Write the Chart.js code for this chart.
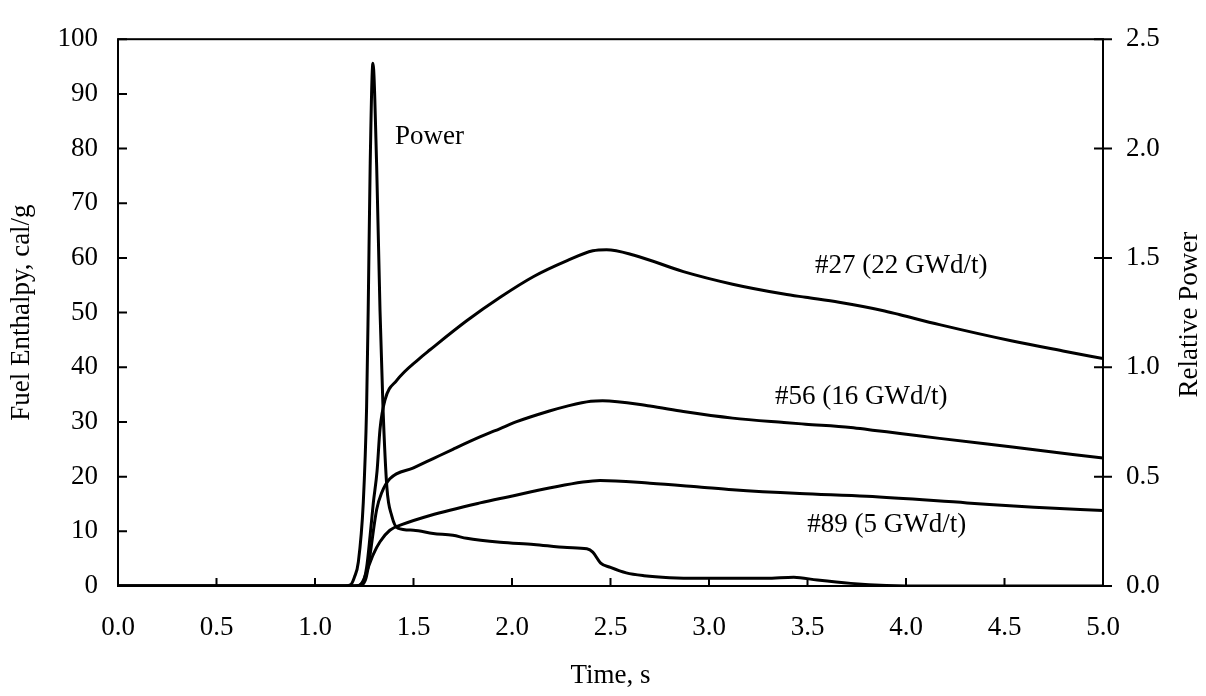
<!DOCTYPE html>
<html><head><meta charset="utf-8">
<script src="https://cdn.jsdelivr.net/npm/chart.js@4.4.0/dist/chart.umd.min.js"></script>
<style>html,body{margin:0;padding:0;background:#fff;}</style>
</head><body>
<canvas id="c" width="1206" height="696"></canvas>
<script>
// ---- data ----
const powerTime = [0, 1.15, 1.18, 1.20, 1.22, 1.245, 1.262, 1.270, 1.280, 1.294, 1.313, 1.330, 1.345, 1.365, 1.39, 1.42, 1.50, 1.60, 1.70, 1.77, 1.94, 2.11, 2.28, 2.38, 2.41, 2.45, 2.50, 2.58, 2.67, 2.80, 2.95, 3.29, 3.43, 3.55, 3.72, 3.90, 4.00, 5.00];
const powerValues = [0, 0, 0.005, 0.04, 0.11, 0.38, 0.82, 1.26, 1.92, 2.39, 1.92, 1.26, 0.82, 0.45, 0.32, 0.265, 0.255, 0.24, 0.232, 0.218, 0.20, 0.19, 0.176, 0.17, 0.155, 0.105, 0.085, 0.06, 0.047, 0.038, 0.035, 0.035, 0.04, 0.027, 0.012, 0.002, 0, 0];

const time27 = [0, 1.20, 1.24, 1.262, 1.28, 1.296, 1.315, 1.33, 1.355, 1.415, 1.53, 1.584, 1.77, 1.94, 2.11, 2.28, 2.41, 2.48, 2.62, 2.87, 3.12, 3.38, 3.49, 3.66, 3.88, 3.97, 4.17, 4.54, 4.81, 5.00];
const enthalpy27 = [0, 0, 0.5, 3.4, 9.3, 15.2, 21, 28.7, 34, 37.6, 41.6, 43.2, 48.5, 52.8, 56.6, 59.5, 61.3, 61.5, 60.5, 57.5, 55.2, 53.4, 52.8, 51.9, 50.4, 49.6, 47.8, 44.8, 42.9, 41.6];

const time56 = [0, 1.22, 1.255, 1.27, 1.28, 1.313, 1.338, 1.38, 1.50, 1.60, 1.70, 1.84, 1.94, 2.02, 2.19, 2.28, 2.40, 2.46, 2.70, 2.87, 3.12, 3.38, 3.49, 3.72, 3.83, 3.97, 4.17, 4.54, 5.00];
const enthalpy56 = [0, 0, 1, 3.4, 5.8, 14, 17, 19.6, 21.6, 23.3, 25.0, 27.3, 28.8, 30.0, 32.0, 32.9, 33.8, 33.9, 32.9, 31.9, 30.7, 29.9, 29.6, 29.0, 28.5, 27.9, 27.0, 25.4, 23.4];

const time89 = [0, 1.22, 1.245, 1.27, 1.296, 1.33, 1.38, 1.447, 1.584, 1.838, 1.94, 2.36, 2.447, 2.70, 2.95, 3.12, 3.46, 3.80, 4.31, 4.65, 5.00];
const enthalpy89 = [0, 0, 1, 3.4, 5.8, 8.1, 10.2, 11.3, 12.9, 15.2, 16, 19, 19.3, 18.8, 18.1, 17.6, 16.9, 16.4, 15.2, 14.4, 13.8];

const xTickValues = [0, 0.5, 1.0, 1.5, 2.0, 2.5, 3.0, 3.5, 4.0, 4.5, 5.0];
const labelTexts = ['Power', '#27 (22 GWd/t)', '#56 (16 GWd/t)', '#89 (5 GWd/t)'];
const labelTime = [1.406, 3.538, 3.335, 3.499];
const labelEnthalpy = [80.8, 57.2, 33.2, 9.9];

const toPts = (xs, ys) => xs.map((x, i) => ({x: x, y: ys[i]}));
const FONT = '"Liberation Serif", "Times New Roman", serif';

const framePlugin = {
  id: 'frame',
  afterDatasetsDraw(chart) {
    const {ctx, chartArea: a, scales} = chart;
    ctx.save();
    ctx.strokeStyle = '#000';
    ctx.lineWidth = 2;
    ctx.strokeRect(a.left, a.top, a.right - a.left, a.bottom - a.top);
    ctx.beginPath();
    scales.y.ticks.forEach(t => { const y = scales.y.getPixelForValue(t.value); ctx.moveTo(a.left, y); ctx.lineTo(a.left + 9, y); });
    scales.x.ticks.forEach(t => { const x = scales.x.getPixelForValue(t.value); ctx.moveTo(x, a.bottom); ctx.lineTo(x, a.bottom - 8); });
    scales.y1.ticks.forEach(t => { const y = scales.y1.getPixelForValue(t.value); ctx.moveTo(a.right - 9, y); ctx.lineTo(a.right + 9, y); });
    ctx.stroke();
    ctx.fillStyle = '#000';
    ctx.font = '27px ' + FONT;
    ctx.textAlign = 'left';
    ctx.textBaseline = 'alphabetic';
    labelTexts.forEach((s, i) => ctx.fillText(s, scales.x.getPixelForValue(labelTime[i]), scales.y.getPixelForValue(labelEnthalpy[i])));
    ctx.translate(a.right + 94, (a.top + a.bottom) / 2 + 2);
    ctx.rotate(-Math.PI / 2);
    ctx.textAlign = 'center';
    ctx.fillText('Relative Power', 0, 0);
    ctx.restore();
  }
};

const lineStyle = {borderColor: '#000', borderWidth: 3, pointRadius: 0, fill: false, cubicInterpolationMode: 'monotone'};

new Chart(document.getElementById('c'), {
  type: 'line',
  data: {
    datasets: [
      Object.assign({label: 'Power', data: toPts(powerTime, powerValues), yAxisID: 'y1'}, lineStyle),
      Object.assign({label: '#27 (22 GWd/t)', data: toPts(time27, enthalpy27), yAxisID: 'y'}, lineStyle),
      Object.assign({label: '#56 (16 GWd/t)', data: toPts(time56, enthalpy56), yAxisID: 'y'}, lineStyle),
      Object.assign({label: '#89 (5 GWd/t)', data: toPts(time89, enthalpy89), yAxisID: 'y'}, lineStyle)
    ]
  },
  options: {
    responsive: false,
    animation: false,
    layout: {padding: {top: 19, left: 0, right: 0, bottom: 0}},
    plugins: {legend: {display: false}, tooltip: {enabled: false}},
    scales: {
      x: {
        type: 'linear', min: 0, max: 5,
        afterBuildTicks: s => { s.ticks = xTickValues.map(v => ({value: v})); },
        afterFit: s => { s.height = 110; },
        grid: {display: false, drawTicks: false},
        border: {display: false},
        ticks: {color: '#000', padding: 26, font: {family: FONT, size: 27}, callback: v => Number(v).toFixed(1)},
        title: {display: true, text: 'Time, s', color: '#000', font: {family: FONT, size: 27}, padding: {top: 0, bottom: 4}}
      },
      y: {
        type: 'linear', position: 'left', min: 0, max: 100,
        afterFit: s => { s.width = 118; },
        grid: {display: false, drawTicks: false},
        border: {display: false},
        ticks: {stepSize: 10, color: '#000', padding: 20, font: {family: FONT, size: 27}},
        title: {display: true, text: 'Fuel Enthalpy, cal/g', color: '#000', font: {family: FONT, size: 27}, padding: {top: 6, bottom: 0}}
      },
      y1: {
        type: 'linear', position: 'right', min: 0, max: 2.5,
        afterFit: s => { s.width = 103; },
        grid: {display: false, drawTicks: false},
        border: {display: false},
        ticks: {stepSize: 0.5, color: '#000', padding: 23, font: {family: FONT, size: 27}, callback: v => Number(v).toFixed(1)}
      }
    }
  },
  plugins: [framePlugin]
});
</script>
</body></html>
